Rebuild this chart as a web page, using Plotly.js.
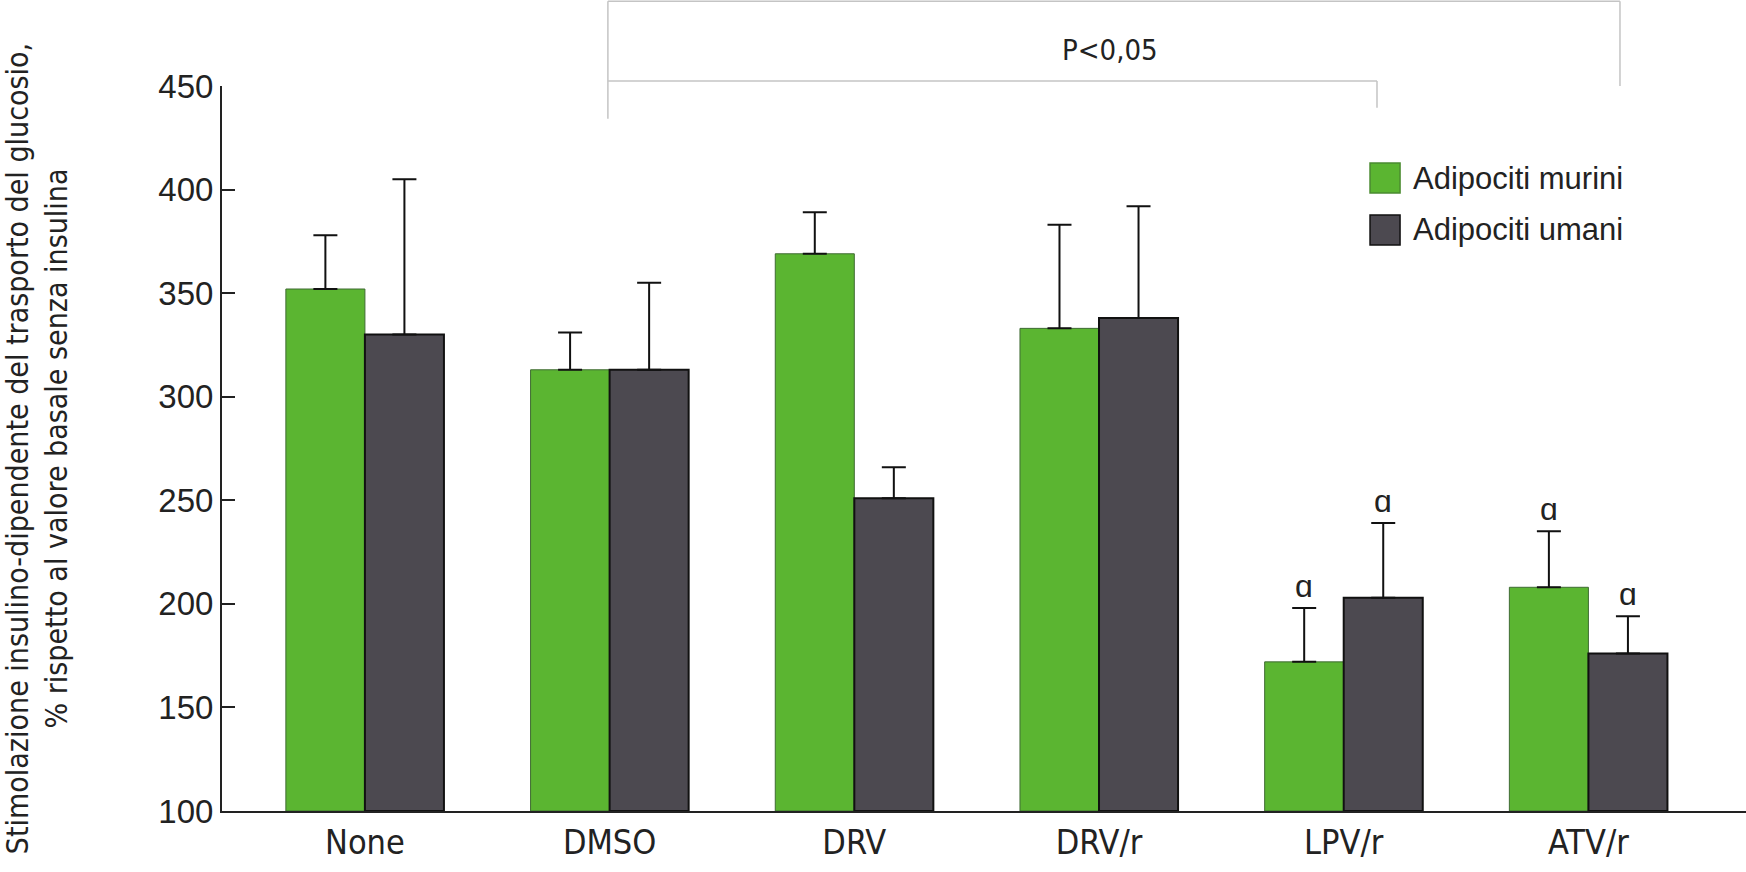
<!DOCTYPE html>
<html>
<head>
<meta charset="utf-8">
<script src="https://cdn.plot.ly/plotly-3.0.1.min.js"></script>
<style>html,body{margin:0;padding:0;background:#fff;}#chart{width:1746px;height:872px;}</style>
</head>
<body>
<div id="chart"></div>
<script>
// ---- data ----
const categories = ["None", "DMSO", "DRV", "DRV/r", "LPV/r", "ATV/r"];
const seriesNames = ["Adipociti murini", "Adipociti umani"];
const murini = [352, 313, 369, 333, 172, 208];
const muriniErr = [26, 18, 20, 50, 26, 27];
const umani = [330, 313, 251, 338, 203, 176];
const umaniErr = [75, 42, 15, 54, 36, 18];
// significance markers (category index, series index)
const alphaMarks = [[4, 0], [4, 1], [5, 0], [5, 1]];
const alphaSymbol = "ɑ";
const pText = "P<0,05";
const yTitle = "Stimolazione insulino-dipendente del trasporto del glucosio,<br>% rispetto al valore basale senza insulina";

// ---- style ----
const GREEN = "#5bb531";
const DARK = "#4c4950";
const BARGAP = 0.354;
const half = (1 - BARGAP) / 4;
const narrow = "DejaVu Sans Condensed, Liberation Sans Narrow, sans-serif";
const sans = "Liberation Sans, Arial, sans-serif";

const xIdx = categories.map((_, i) => i);

const traces = [
  {
    type: "bar", name: seriesNames[0], x: xIdx, y: murini.map(v => v - 100), base: 100,
    marker: { color: GREEN, line: { color: "#3f6b33", width: 1 } },
    error_y: { type: "data", symmetric: false, array: muriniErr, arrayminus: murini.map(() => 0),
               color: "#111", thickness: 2, width: 12 },
    showlegend: false, hoverinfo: "skip"
  },
  {
    type: "bar", name: seriesNames[1], x: xIdx, y: umani.map(v => v - 100), base: 100,
    marker: { color: DARK, line: { color: "#111", width: 2 } },
    error_y: { type: "data", symmetric: false, array: umaniErr, arrayminus: umani.map(() => 0),
               color: "#111", thickness: 2, width: 12 },
    showlegend: false, hoverinfo: "skip"
  }
];

const vals = [murini, umani], errs = [muriniErr, umaniErr];
const annotations = alphaMarks.map(([c, s]) => ({
  x: c + (s === 0 ? -half : half), y: vals[s][c] + errs[s][c],
  xref: "x", yref: "y", text: alphaSymbol, showarrow: false,
  yanchor: "bottom", yshift: 2, font: { family: sans, size: 32, color: "#222" }
}));

// P value label
annotations.push({
  xref: "paper", yref: "paper", x: 0.583, y: 1.05, xanchor: "center", yanchor: "middle",
  text: pText, showarrow: false,
  font: { family: narrow, size: 29, color: "#222" }
});

// custom legend labels
const legendColors = [GREEN, DARK];
const legY = [0.8731, 0.8014];
seriesNames.forEach((n, i) => annotations.push({
  xref: "paper", yref: "paper", x: 0.7802, y: legY[i], xanchor: "left", yanchor: "middle",
  text: n, showarrow: false, font: { family: sans, size: 31, color: "#222" }
}));

const shapes = [];
// legend swatches
const legRect = [[0.8524, 0.8938], [0.7807, 0.8221]];
legendColors.forEach((c, i) => shapes.push({
  type: "rect", xref: "paper", yref: "paper", x0: 0.7533, x1: 0.7730, y0: legRect[i][0], y1: legRect[i][1],
  fillcolor: c, line: { color: i === 0 ? "#4a8a30" : "#111", width: 1.5 }
}));
// significance bracket (light gray)
const br = { color: "#c4c4c4", width: 1.5 };
shapes.push({ type: "line", xref: "x", yref: "paper", x0: 0.993, x1: 5.129, y0: 1.117, y1: 1.117, line: br });
shapes.push({ type: "line", xref: "x", yref: "paper", x0: 5.129, x1: 5.129, y0: 1.117, y1: 1.0, line: br });
shapes.push({ type: "line", xref: "x", yref: "paper", x0: 0.993, x1: 0.993, y0: 1.117, y1: 0.955, line: br });
shapes.push({ type: "line", xref: "x", yref: "paper", x0: 0.993, x1: 4.136, y0: 1.007, y1: 1.007, line: br });
shapes.push({ type: "line", xref: "x", yref: "paper", x0: 4.136, x1: 4.136, y0: 1.007, y1: 0.97, line: br });

const layout = {
  width: 1746, height: 872,
  margin: { l: 222, r: 0, t: 86, b: 61, pad: 0 },
  paper_bgcolor: "#ffffff", plot_bgcolor: "#ffffff",
  barmode: "group", bargap: BARGAP, bargroupgap: 0,
  showlegend: false,
  xaxis: {
    range: [-0.584, 5.644], tickmode: "array", tickvals: xIdx, ticktext: categories,
    showline: true, linecolor: "#222", linewidth: 2, ticks: "", showgrid: false, zeroline: false,
    tickfont: { family: narrow, size: 34, color: "#222" }, automargin: false
  },
  yaxis: {
    range: [100, 450], tick0: 100, dtick: 50, showline: true, linecolor: "#222", linewidth: 2,
    ticks: "inside", ticklen: 13, tickwidth: 2, tickcolor: "#222", showgrid: false, zeroline: false,
    tickfont: { family: sans, size: 33, color: "#222" }, automargin: false,
    title: { text: yTitle, standoff: 82, font: { family: narrow, size: 30, color: "#222" } }
  },
  annotations: annotations,
  shapes: shapes
};

Plotly.newPlot("chart", traces, layout, { staticPlot: true, displayModeBar: false });
</script>
</body>
</html>
